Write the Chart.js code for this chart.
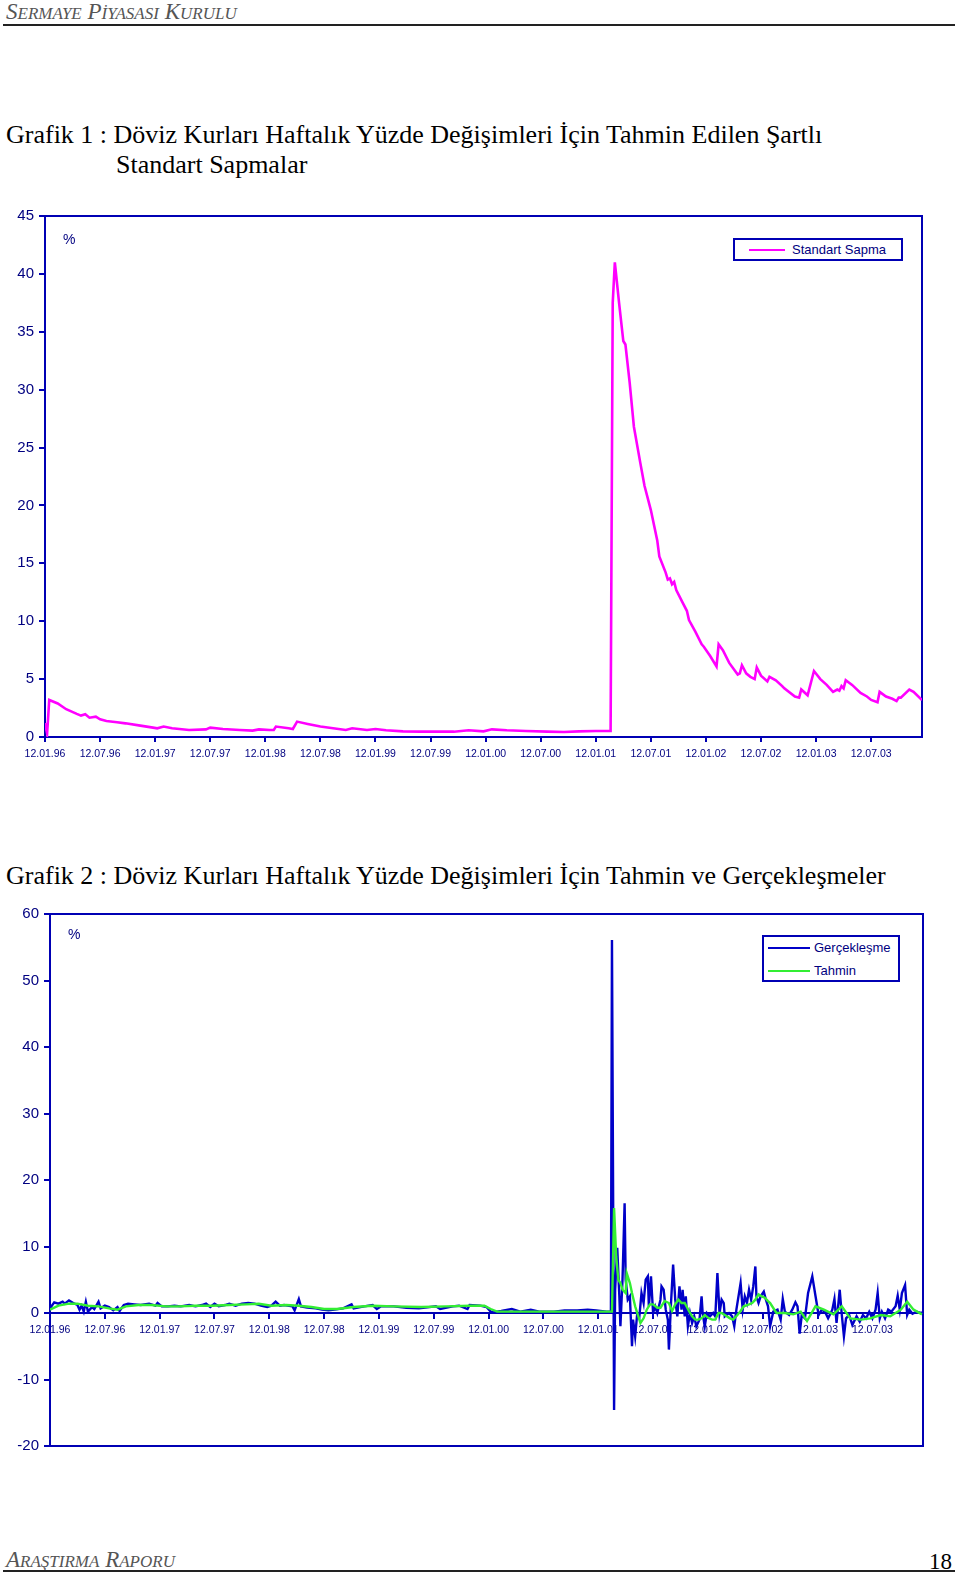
<!DOCTYPE html>
<html lang="tr">
<head>
<meta charset="utf-8">
<script src="https://cdn.jsdelivr.net/npm/chart.js@4.4.1/dist/chart.umd.min.js"></script>
<style>
  body { margin: 0; background: #fff; width: 960px; height: 1575px; position: relative; overflow: hidden; }
  .abs { position: absolute; white-space: nowrap; }
  .head { font-family: "Liberation Serif", serif; font-style: italic; color: #555; font-size: 23px; line-height: 23px; }
  .head small { font-size: 17px; }
  .rule { position: absolute; left: 3px; width: 952px; height: 2px; background: #222; }
  .title { font-family: "Liberation Serif", serif; font-size: 26px; line-height: 26px; color: #000; }
  .pct { font-family: "Liberation Sans", Arial, sans-serif; font-size: 14px; line-height: 14px; color: #000080; }
  .legend { position: absolute; border: 2px solid #0000b4; box-sizing: border-box; background: #fff;
            font-family: "Liberation Sans", Arial, sans-serif; font-size: 13px; color: #000080; }
  .legend .row { position: absolute; left: 0; height: 16px; line-height: 16px; }
  .legend .sw { position: absolute; top: 7px; height: 2px; }
  .legend .lb { position: absolute; top: 0; }
  canvas { position: absolute; left: 0; }
</style>
</head>
<body>

<div class="abs head" style="left:6px; top:0px;">S<small>ERMAYE</small> P<small>İYASASI</small> K<small>URULU</small></div>
<div class="rule" style="top:24px;"></div>

<div class="abs title" style="left:6px; top:122px;">Grafik 1 : Döviz Kurları Haftalık Yüzde Değişimleri İçin Tahmin Edilen Şartlı</div>
<div class="abs title" style="left:116px; top:152px;">Standart Sapmalar</div>

<canvas id="chart1" width="960" height="580" style="top:200px;"></canvas>
<div class="abs pct" style="left:63px; top:232px;">%</div>
<div class="legend" style="left:733px; top:238px; width:170px; height:23px;">
  <div class="row" style="top:2px; width:166px;">
    <div class="sw" style="left:14px; width:36px; background:#ff00ff;"></div>
    <div class="lb" style="left:57px;">Standart Sapma</div>
  </div>
</div>

<div class="abs title" style="left:6px; top:863px;">Grafik 2 : Döviz Kurları Haftalık Yüzde Değişimleri İçin Tahmin ve Gerçekleşmeler</div>

<canvas id="chart2" width="960" height="570" style="top:895px;"></canvas>
<div class="abs pct" style="left:68px; top:927px;">%</div>
<div class="legend" style="left:762px; top:935px; width:138px; height:47px;">
  <div class="row" style="top:3px; width:134px;">
    <div class="sw" style="left:4px; width:42px; background:#0000c8;"></div>
    <div class="lb" style="left:50px;">Gerçekleşme</div>
  </div>
  <div class="row" style="top:26px; width:134px;">
    <div class="sw" style="left:4px; width:42px; background:#33ee33;"></div>
    <div class="lb" style="left:50px;">Tahmin</div>
  </div>
</div>

<div class="abs head" style="left:6px; top:1548px;">A<small>RAŞTIRMA</small> R<small>APORU</small></div>
<div class="abs title" style="left:929px; top:1549px; font-size:23px;">18</div>
<div class="rule" style="top:1570px;"></div>

<script>
// x axis: weeks counted from 12.01.96, one label every half year
const tickLabels = ['12.01.96', '12.07.96', '12.01.97', '12.07.97', '12.01.98', '12.07.98', '12.01.99', '12.07.99',
  '12.01.00', '12.07.00', '12.01.01', '12.07.01', '12.01.02', '12.07.02', '12.01.03', '12.07.03'];
const tickWeeks = [0, 26, 52, 78, 104, 130, 156, 182, 208, 234, 260, 286, 312, 338, 364, 390];

// Grafik 1 - conditional standard deviation (%)
const sdWeeks = [0, 1, 2, 6, 10, 15, 17, 19, 21, 24, 26, 29, 34, 38, 45, 51, 53, 56, 60, 68, 76, 78, 84, 92, 98, 101,
  106, 108, 109, 115, 117, 119, 124, 130, 136, 142, 145, 152, 156, 161, 169, 177, 185, 193, 200, 207, 211, 218, 227,
  237, 245, 252, 260, 267, 268, 269, 271, 273, 274, 276, 278, 281, 283, 286, 289, 290, 293, 294, 295, 296, 297, 298,
  301, 303, 304, 307, 310, 311, 314, 317, 318, 320, 323, 327, 328, 329, 331, 333, 335, 336, 338, 341, 342, 345, 348,
  349, 354, 356, 357, 360, 363, 366, 369, 372, 374, 375, 376, 377, 378, 381, 385, 388, 390, 393, 394, 397, 400, 402,
  403, 404, 408, 410, 414];
const sdValues = [1.2, 0.3, 3.2, 2.9, 2.4, 2.0, 1.85, 1.96, 1.67, 1.76, 1.53, 1.38, 1.27, 1.18, 0.98, 0.81, 0.75, 0.9,
  0.75, 0.61, 0.66, 0.81, 0.69, 0.61, 0.55, 0.66, 0.61, 0.61, 0.9, 0.75, 0.69, 1.33, 1.13, 0.9, 0.75, 0.61, 0.75, 0.61,
  0.69, 0.58, 0.49, 0.46, 0.46, 0.46, 0.58, 0.49, 0.66, 0.58, 0.52, 0.46, 0.43, 0.49, 0.52, 0.52, 37.5, 41.0, 37.5,
  34.2, 33.9, 30.6, 26.8, 23.7, 21.7, 19.6, 17.0, 15.6, 14.2, 13.6, 13.7, 13.2, 13.4, 12.7, 11.6, 10.9, 10.1, 9.1, 8.0,
  7.8, 7.0, 6.1, 8.0, 7.5, 6.4, 5.4, 5.5, 6.2, 5.5, 5.2, 5.0, 6.0, 5.3, 4.8, 5.2, 4.9, 4.4, 4.2, 3.5, 3.4, 4.1, 3.6,
  5.7, 5.0, 4.5, 3.9, 4.1, 4.0, 4.4, 4.2, 4.9, 4.5, 3.8, 3.5, 3.2, 3.0, 3.9, 3.5, 3.3, 3.1, 3.4, 3.4, 4.1, 3.9, 3.2];

// Grafik 2 - realised weekly change (Gerçekleşme)
const actWeeks = [0, 2, 4, 6, 7, 9, 11, 13, 14, 15, 16, 17, 18, 20, 21, 23, 24, 26, 28, 30, 32, 33, 35, 37, 40, 43,
  47, 50, 51, 53, 56, 59, 62, 66, 69, 72, 74, 76, 78, 80, 83, 85, 88, 91, 94, 97, 100, 103, 105, 107, 109, 111, 115,
  116, 118, 119, 122, 126, 129, 132, 135, 139, 143, 144, 149, 153, 155, 157, 163, 169, 175, 183, 185, 191, 194, 198,
  199, 204, 207, 209, 210, 214, 219, 223, 228, 232, 239, 244, 250, 255, 259, 264, 266,
  266.5, 267.5, 268, 269, 270, 270.5, 271.5, 272.5, 273, 274, 275, 276, 276.5, 277.5, 278.5, 279.5, 280.5, 281.5,
  282.5, 283.5, 284, 285, 286, 287, 288, 289.5, 290, 291, 292, 293, 293.5, 294.5, 295.5, 296.5, 297.5, 298.5, 299.5,
  300, 301, 301.5, 302.5, 303.5, 304.5, 305.5, 306.5, 308, 309, 309.5, 310.5, 311.5, 313, 314.5, 315.5, 316.5, 317.5,
  318.5, 319.5, 320, 322, 323.5, 324.5, 325.5, 327.5, 328.5, 329.5, 330.5, 331.5, 332.5, 333.5, 334.5, 335, 336, 337,
  338.5, 339.5, 340.5, 341.5, 343, 345, 346.5, 347.5, 348.5, 350.5, 352, 353.5, 354.5, 355.5, 356.5, 358, 359.5,
  361.5, 363, 364.5, 366, 367.5, 369, 371, 372, 373, 374.5, 375.5, 376.5, 377.5, 379, 380.5, 382.5, 384, 385.5, 387,
  388.5, 390, 391.5, 392.5, 393.5, 394.5, 396, 397.5, 399, 401, 402, 403, 404, 405.5, 406.5, 407.5, 409, 411, 413, 414];
const actValues = [0.7, 1.6, 1.4, 1.7, 1.4, 1.9, 1.5, 1.2, 0.5, 1.1, 0.2, 1.7, 0.2, 0.9, 0.6, 1.7, 0.7, 1.1, 0.9, 0.4,
  0.9, 0.3, 1.2, 1.4, 1.3, 1.2, 1.4, 1.1, 1.5, 1.0, 1.0, 1.1, 1.0, 1.2, 1.0, 1.2, 1.4, 0.9, 1.4, 1.0, 1.2, 1.4, 1.1,
  1.4, 1.5, 1.4, 1.1, 0.9, 1.1, 1.7, 1.1, 1.2, 1.0, 0.4, 2.1, 1.0, 0.8, 0.7, 0.5, 0.4, 0.5, 0.7, 1.3, 0.7, 1.0, 1.2,
  0.6, 1.0, 1.0, 0.8, 0.7, 1.0, 0.6, 1.0, 1.1, 0.6, 1.2, 1.1, 0.9, 0.2, 0.1, 0.3, 0.6, 0.2, 0.5, 0.2, 0.2, 0.4, 0.4,
  0.5, 0.4, 0.2, 0.2,
  56.1, -14.6, 3.5, 9.8, 2.5, -2.0, 5.0, 16.5, 5.0, 2.0, 2.5, -5.0, -1.0, -3.5, 0, -0.5, 3.0, 1.5, 5.0, 5.5, 1.0, 5.5,
  0, 1.0, 0, 2.0, 4.0, 3.5, 0.5, -1.0, -5.5, 1.5, 7.3, 2.0, -0.5, 4.0, 0.5, 3.5, -0.5, 2.5, -2.0, 0, -1.5, -0.5, -2.0,
  -1.0, 2.5, 0, -2.0, 0, -0.5, 0, -0.5, 6.0, 0, 2.0, 1.5, -0.5, 0, -0.5, -2.0, 0.5, 4.5, 0.5, 2.5, 1.5, 3.5, 2.0, 4.0,
  7.0, 2.5, 1.5, 2.5, 3.2, 2.0, 1.0, -2.0, 0.2, 0.5, -1.0, 2.1, 0.2, -0.3, 0.5, 1.6, 1.0, -3.1, -0.3, -0.8, 3.0, 5.5,
  2.6, -0.3, 0.5, 0.2, -0.8, 0.5, 2.1, -1.5, 3.5, -0.3, -3.5, -0.8, -0.3, -1.8, -0.5, -1.3, -0.3, -0.8, 0.2, -0.8,
  0.5, 3.0, -0.8, 0.2, -0.8, 0.5, 0.2, 1.0, 2.6, 0.5, 3.0, 4.2, -0.3, 0.5, -0.1, 0.2, 0, 0.1];

// Grafik 2 - forecast (Tahmin)
const fcWeeks = [0, 4, 9, 13, 18, 23, 28, 32, 36, 42, 48, 55, 61, 69, 77, 85, 93, 99, 105, 112, 118, 124, 130, 136,
  144, 153, 163, 176, 188, 199, 206, 209, 212, 223, 239, 255, 266,
  266.5, 267.5, 268.5, 269.5, 270.5, 271.5, 273, 273.5, 275, 276, 277.5, 279, 280, 281.5, 283, 284.5, 286, 288, 289.5,
  291.5, 293.5, 295, 296.5, 298, 299.5, 301, 303, 304.5, 306, 307.5, 309, 310.5, 312.5, 314, 315.5, 317, 318.5, 320,
  322.5, 324, 326, 327.5, 329, 331.5, 333, 334.5, 336, 337.5, 339, 340.5, 341.5, 344.5, 348.5, 352.5, 356, 359, 363,
  367, 371.5, 375.5, 379.5, 384.5, 389, 394, 398.5, 403.5, 406.5, 409.5, 413.5];
const fcValues = [0.5, 1.1, 1.4, 1.4, 1.1, 1.0, 0.7, 0.5, 1.0, 1.2, 1.2, 1.0, 1.0, 1.1, 1.1, 1.2, 1.3, 1.4, 1.1, 1.2,
  1.1, 0.9, 0.6, 0.6, 0.9, 1.1, 1.0, 0.9, 1.0, 1.1, 1.1, 0.6, 0.2, 0.2, 0.2, 0.2, 0.2,
  0.2, 15.8, 8.5, 5.0, 4.5, 3.5, 3.0, 6.0, 4.5, 3.0, 1.0, -0.5, -1.5, -0.8, 0.5, 1.3, 1.3, 0.8, 0.8, 1.8, 1.5, 0.3,
  1.3, 2.0, 1.5, 1.5, 0.3, -0.5, -1.0, -1.0, -0.8, -0.3, -0.8, -1.0, -1.0, 0, 0, -0.3, -0.8, -1.0, -0.3, 0.3, 1.0,
  1.3, 1.5, 2.0, 2.8, 2.5, 2.3, 1.8, 1.5, 0, 0, -0.2, 0.2, -1.2, 1.0, 0.5, -0.2, 1.0, -0.8, -1.0, -0.8, -0.3, -0.5,
  0.5, 1.7, 0.5, -0.2];

const axisBlue = '#0000b4';
const labelNavy = '#000080';
const sansFont = '"Liberation Sans", Arial, sans-serif';

function toPoints(xs, ys) {
  return xs.map((x, i) => ({ x: x, y: ys[i] }));
}

// blue frame around the plot area
const framePlugin = {
  id: 'frame',
  beforeDatasetsDraw(chart) {
    const a = chart.chartArea;
    const ctx = chart.ctx;
    ctx.save();
    ctx.strokeStyle = axisBlue;
    ctx.lineWidth = 2;
    ctx.strokeRect(a.left, a.top, a.right - a.left, a.bottom - a.top);
    ctx.restore();
  }
};

function xScale(maxWeek, position, fitHeight) {
  return {
    type: 'linear',
    position: position,
    min: 0,
    max: maxWeek,
    afterBuildTicks: (scale) => { scale.ticks = tickWeeks.map(v => ({ value: v })); },
    afterFit: fitHeight ? (scale) => { scale.height = fitHeight; } : undefined,
    ticks: {
      autoSkip: false,
      maxRotation: 0,
      padding: 6,
      color: labelNavy,
      font: { family: sansFont, size: 10.5 },
      callback: (value, index) => tickLabels[index]
    },
    grid: { drawOnChartArea: false, drawTicks: true, tickLength: 5, color: axisBlue, lineWidth: 2 },
    border: { color: axisBlue, width: 2 }
  };
}

function yScale(min, max, step, width) {
  return {
    min: min,
    max: max,
    afterFit: (scale) => { scale.width = width; },
    ticks: {
      stepSize: step,
      padding: 5,
      color: labelNavy,
      font: { family: sansFont, size: 15 }
    },
    grid: { drawOnChartArea: false, drawTicks: true, tickLength: 6, color: axisBlue, lineWidth: 2 },
    border: { color: axisBlue, width: 2 }
  };
}

const baseOptions = {
  responsive: false,
  animation: false,
  events: [],
  plugins: { legend: { display: false }, tooltip: { enabled: false } },
  elements: { point: { radius: 0 }, line: { tension: 0 } }
};

// Grafik 1
new Chart(document.getElementById('chart1'), {
  type: 'line',
  data: {
    datasets: [{
      label: 'Standart Sapma',
      data: toPoints(sdWeeks, sdValues),
      borderColor: '#ff00ff',
      borderWidth: 2.6
    }]
  },
  options: Object.assign({}, baseOptions, {
    layout: { padding: { top: 16, right: 38, left: 0, bottom: 0 } },
    scales: {
      x: xScale(414, 'bottom', 43),
      y: yScale(0, 45, 5, 45)
    }
  }),
  plugins: [framePlugin]
});

// Grafik 2
new Chart(document.getElementById('chart2'), {
  type: 'line',
  data: {
    datasets: [{
      label: 'Gerçekleşme',
      data: toPoints(actWeeks, actValues),
      borderColor: '#0000c8',
      borderWidth: 2.4,
      order: 1
    }, {
      label: 'Tahmin',
      data: toPoints(fcWeeks, fcValues),
      borderColor: '#33ee33',
      borderWidth: 2.4,
      order: 0
    }]
  },
  options: Object.assign({}, baseOptions, {
    layout: { padding: { top: 19, right: 37, left: 0, bottom: 19 } },
    scales: {
      x: xScale(414, { y: 0 }, null),
      y: yScale(-20, 60, 10, 50)
    }
  }),
  plugins: [framePlugin]
});
</script>
</body>
</html>
